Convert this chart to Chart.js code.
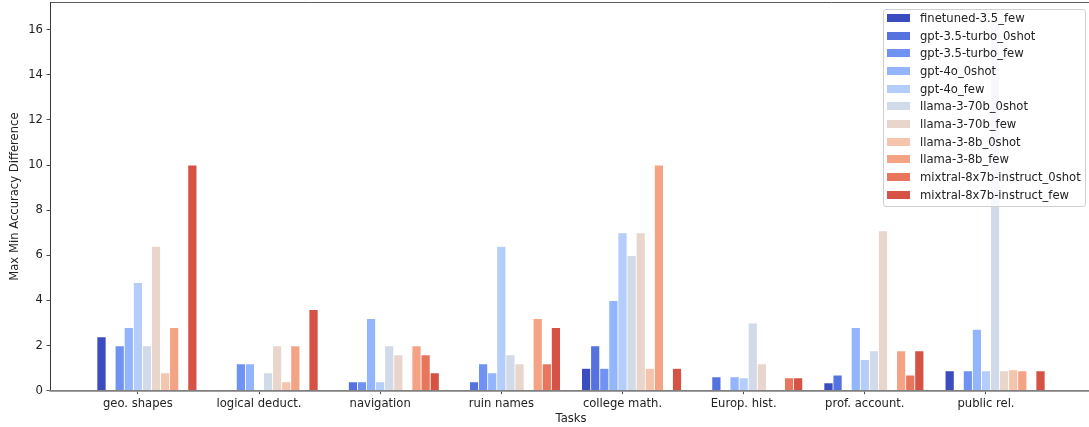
<!DOCTYPE html>
<html>
<head>
<meta charset="utf-8">
<script src="https://cdn.jsdelivr.net/npm/chart.js@4.4.1/dist/chart.umd.min.js"></script>
<style>
  html, body { margin: 0; padding: 0; background: #fff; overflow: hidden; }
  #wrap { position: relative; width: 1092px; height: 427px; }
  #legend {
    position: absolute; left: 883px; top: 9px; width: 203px; height: 198px;
    background: rgba(255,255,255,0.8); border: 1px solid #d0d0d0; border-radius: 3px;
    font-family: 'DejaVu Sans', sans-serif; font-size: 11.6px; color: #222;
    box-sizing: border-box;
  }
  .row { position: absolute; left: 3px; height: 15px; display: flex; align-items: center; white-space: nowrap; }
  .sw { width: 23px; height: 8px; margin-right: 10px; }
</style>
</head>
<body>
<div id="wrap">
  <canvas id="c"></canvas>
  <div id="legend"></div>
</div>
<script>
const tasks = ['geo. shapes', 'logical deduct.', 'navigation', 'ruin names', 'college math.', 'Europ. hist.', 'prof. account.', 'public rel.'];

const seriesNames = ['finetuned-3.5_few', 'gpt-3.5-turbo_0shot', 'gpt-3.5-turbo_few', 'gpt-4o_0shot', 'gpt-4o_few',
  'llama-3-70b_0shot', 'llama-3-70b_few', 'llama-3-8b_0shot', 'llama-3-8b_few',
  'mixtral-8x7b-instruct_0shot', 'mixtral-8x7b-instruct_few'];

const finetuned35Few   = [2.4, 0.05, 0.05, 0.05, 1.0, 0.05, 0.36, 0.89];
const gpt35Zero        = [0.05, 0.05, 0.4, 0.4, 2.0, 0.62, 0.7, 0.05];
const gpt35Few         = [2.0, 1.2, 0.4, 1.2, 1.0, 0.05, 0.05, 0.89];
const gpt4oZero        = [2.8, 1.2, 3.2, 0.8, 4.0, 0.62, 2.81, 2.73];
const gpt4oFew         = [4.8, 0.05, 0.4, 6.4, 7.0, 0.58, 1.39, 0.89];
const llama70Zero      = [2.0, 0.8, 2.0, 1.6, 6.0, 3.0, 1.78, 16.4];
const llama70Few       = [6.4, 2.0, 1.6, 1.2, 7.0, 1.2, 7.09, 0.89];
const llama8Zero       = [0.8, 0.4, 0.05, 0.05, 1.0, 0.05, 0.05, 0.93];
const llama8Few        = [2.8, 2.0, 2.0, 3.2, 10.0, 0.05, 1.78, 0.89];
const mixtralZero      = [0.05, 0.05, 1.6, 1.2, 0.05, 0.58, 0.7, 0.05];
const mixtralFew       = [10.0, 3.6, 0.8, 2.8, 1.0, 0.58, 1.78, 0.89];

const yTicks = [0, 2, 4, 6, 8, 10, 12, 14, 16];

const seriesValues = [finetuned35Few, gpt35Zero, gpt35Few, gpt4oZero, gpt4oFew, llama70Zero, llama70Few,
  llama8Zero, llama8Few, mixtralZero, mixtralFew];

const colors = ['#3b4cc0', '#5572df', '#7093f3', '#93b5fe', '#b5cdfa', '#d1dae9', '#e8d6cc',
  '#f5c4ac', '#f4a385', '#e8765c', '#d65244'];

const FONT = "'DejaVu Sans', sans-serif";
const FS = 11.6;
const BAR_W = 0.075; // bar width in category units

const datasets = seriesNames.map((name, k) => ({
  label: name,
  data: seriesValues[k].map((v, i) => ({ x: i, y: v })),
  backgroundColor: colors[k],
  borderColor: 'rgba(255,255,255,0.6)',
  borderWidth: { top: 0.6, left: 0.4, right: 0.4, bottom: 0 },
  borderSkipped: 'bottom',
  categoryPercentage: BAR_W * seriesNames.length,
  barPercentage: 1.0
}));

const frame = {
  id: 'frame',
  afterDatasetsDraw(chart) {
    const { ctx, chartArea: a } = chart;
    ctx.save();
    ctx.strokeStyle = '#333';
    ctx.lineWidth = 0.8;
    ctx.beginPath();
    ctx.moveTo(a.left, a.top);
    ctx.lineTo(a.right, a.top);
    ctx.lineTo(a.right, a.bottom);
    ctx.stroke();
    ctx.strokeStyle = '#808080';
    ctx.lineWidth = 1.6;
    ctx.beginPath();
    ctx.moveTo(a.left, a.bottom);
    ctx.lineTo(a.right, a.bottom);
    ctx.stroke();
    ctx.restore();
  }
};

new Chart(document.getElementById('c'), {
  type: 'bar',
  data: { datasets },
  plugins: [frame],
  options: {
    responsive: true,
    maintainAspectRatio: false,
    animation: false,
    layout: { padding: { top: 2.5, right: 0, left: 0, bottom: 0 } },
    plugins: { legend: { display: false }, tooltip: { enabled: false } },
    scales: {
      x: {
        type: 'linear',
        offset: false,
        min: -0.8,
        max: 7.8,
        afterBuildTicks: (s) => { s.ticks = tasks.map((t, i) => ({ value: i - BAR_W })); },
        afterFit: (s) => { s.height = 36.3; s.paddingLeft = 0; s.paddingRight = 0; },
        grid: { display: true, offset: false, drawOnChartArea: false, drawTicks: true, tickLength: 3.5, color: '#222', tickWidth: 0.8 },
        border: { display: true, color: '#808080', width: 1.6 },
        ticks: {
          autoSkip: false, maxRotation: 0, padding: 2.5,
          font: { family: FONT, size: FS }, color: '#222',
          callback: (v, i) => tasks[i]
        },
        title: { display: true, text: 'Tasks', font: { family: FONT, size: FS }, color: '#222', padding: { top: 0, bottom: 1 } }
      },
      y: {
        min: 0,
        max: 17.2,
        afterBuildTicks: (s) => { s.ticks = yTicks.map(v => ({ value: v })); },
        afterFit: (s) => { s.width = 50; s.paddingTop = 0; s.paddingBottom = 0; },
        grid: { display: true, offset: false, drawOnChartArea: false, drawTicks: true, tickLength: 3.5, color: '#222', tickWidth: 0.8 },
        border: { display: true, color: '#222', width: 0.9 },
        ticks: { padding: 3.5, font: { family: FONT, size: FS }, color: '#222' },
        title: { display: true, text: 'Max Min Accuracy Difference', font: { family: FONT, size: FS }, color: '#222', padding: { top: 8, bottom: 0 } }
      }
    }
  }
});

const leg = document.getElementById('legend');
seriesNames.forEach((name, k) => {
  const row = document.createElement('div');
  row.className = 'row';
  row.style.top = (0.5 + k * 17.67) + 'px';
  const sw = document.createElement('span');
  sw.className = 'sw';
  sw.style.background = colors[k];
  const tx = document.createElement('span');
  tx.textContent = name;
  row.appendChild(sw);
  row.appendChild(tx);
  leg.appendChild(row);
});
</script>
</body>
</html>
